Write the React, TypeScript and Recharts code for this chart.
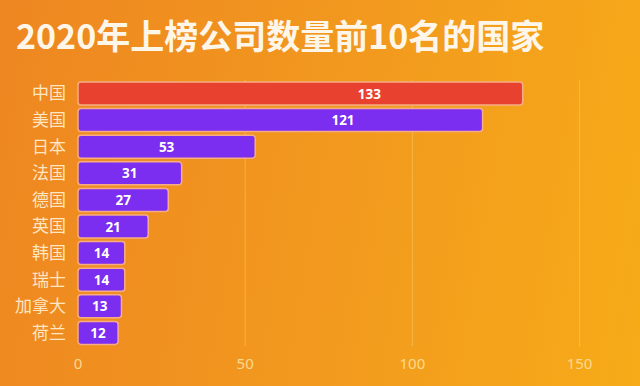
import { BarChart, Bar, XAxis, YAxis, CartesianGrid, Cell, LabelList } from "recharts";

const countries = ["中国", "美国", "日本", "法国", "德国", "英国", "韩国", "瑞士", "加拿大", "荷兰"];
const companyCounts = [133, 121, 53, 31, 27, 21, 14, 14, 13, 12];
const xTicks = [0, 50, 100, 150];
const gridValues = [50, 100, 150];

const data = countries.map((name, i) => ({ name, value: companyCounts[i] }));

const RED = "#e8412f";
const PURPLE = "#7b2df0";

function ValueLabel(props: any) {
    const { x, y, width, height, value } = props;
    // long bars carry their label right of centre, like the source
    const cx = x + width * (width > 300 ? 0.655 : 0.5);
    return (
        <text
            x={cx}
            y={y + height / 2}
            fill="#ffffff"
            fontSize={13.5}
            fontWeight={700}
            fontFamily="'Noto Sans', sans-serif"
            textAnchor="middle"
            dominantBaseline="central"
        >
            {value}
        </text>
    );
}

export default function App() {
    return (
        <div
            style={{
                position: "fixed",
                left: 0,
                top: 0,
                width: 640,
                height: 386,
                background: "linear-gradient(100deg, #ee8621 0%, #f29a1e 55%, #f7ab18 100%)",
                overflow: "hidden",
            }}
        >
            <div
                style={{
                    position: "absolute",
                    left: 16,
                    top: 12,
                    color: "#fff6ea",
                    fontSize: 34,
                    fontWeight: 700,
                    fontFamily: "'Noto Sans CJK SC', sans-serif",
                    lineHeight: "46px",
                    whiteSpace: "nowrap",
                }}
            >
                2020年上榜公司数量前10名的国家
            </div>
            <BarChart
                width={640}
                height={386}
                data={data}
                layout="vertical"
                margin={{ top: 80, right: 27, bottom: 0, left: 0 }}
                barCategoryGap={2}
            >
                <CartesianGrid
                    horizontal={false}
                    vertical
                    verticalValues={gridValues}
                    stroke="rgba(255,228,150,0.35)"
                    strokeWidth={1}
                />
                <XAxis
                    type="number"
                    domain={[0, 160]}
                    ticks={xTicks}
                    axisLine={false}
                    tickLine={false}
                    tickSize={0}
                    tickMargin={12}
                    height={40}
                    tick={{ fill: "#fbd98e", fontSize: 15, fontFamily: "'Noto Sans', sans-serif" }}
                />
                <YAxis
                    type="category"
                    dataKey="name"
                    width={78}
                    axisLine={false}
                    tickLine={false}
                    tickSize={0}
                    tickMargin={12}
                    interval={0}
                    tick={{ fill: "#fde6c2", fontSize: 17, fontFamily: "'Noto Sans CJK SC', sans-serif" }}
                />
                <Bar dataKey="value" isAnimationActive={false} radius={3} stroke="#f6ad86" strokeWidth={1.5}>
                    {data.map((d, i) => (
                        <Cell key={d.name} fill={i === 0 ? RED : PURPLE} />
                    ))}
                    <LabelList dataKey="value" content={ValueLabel} />
                </Bar>
            </BarChart>
        </div>
    );
}
